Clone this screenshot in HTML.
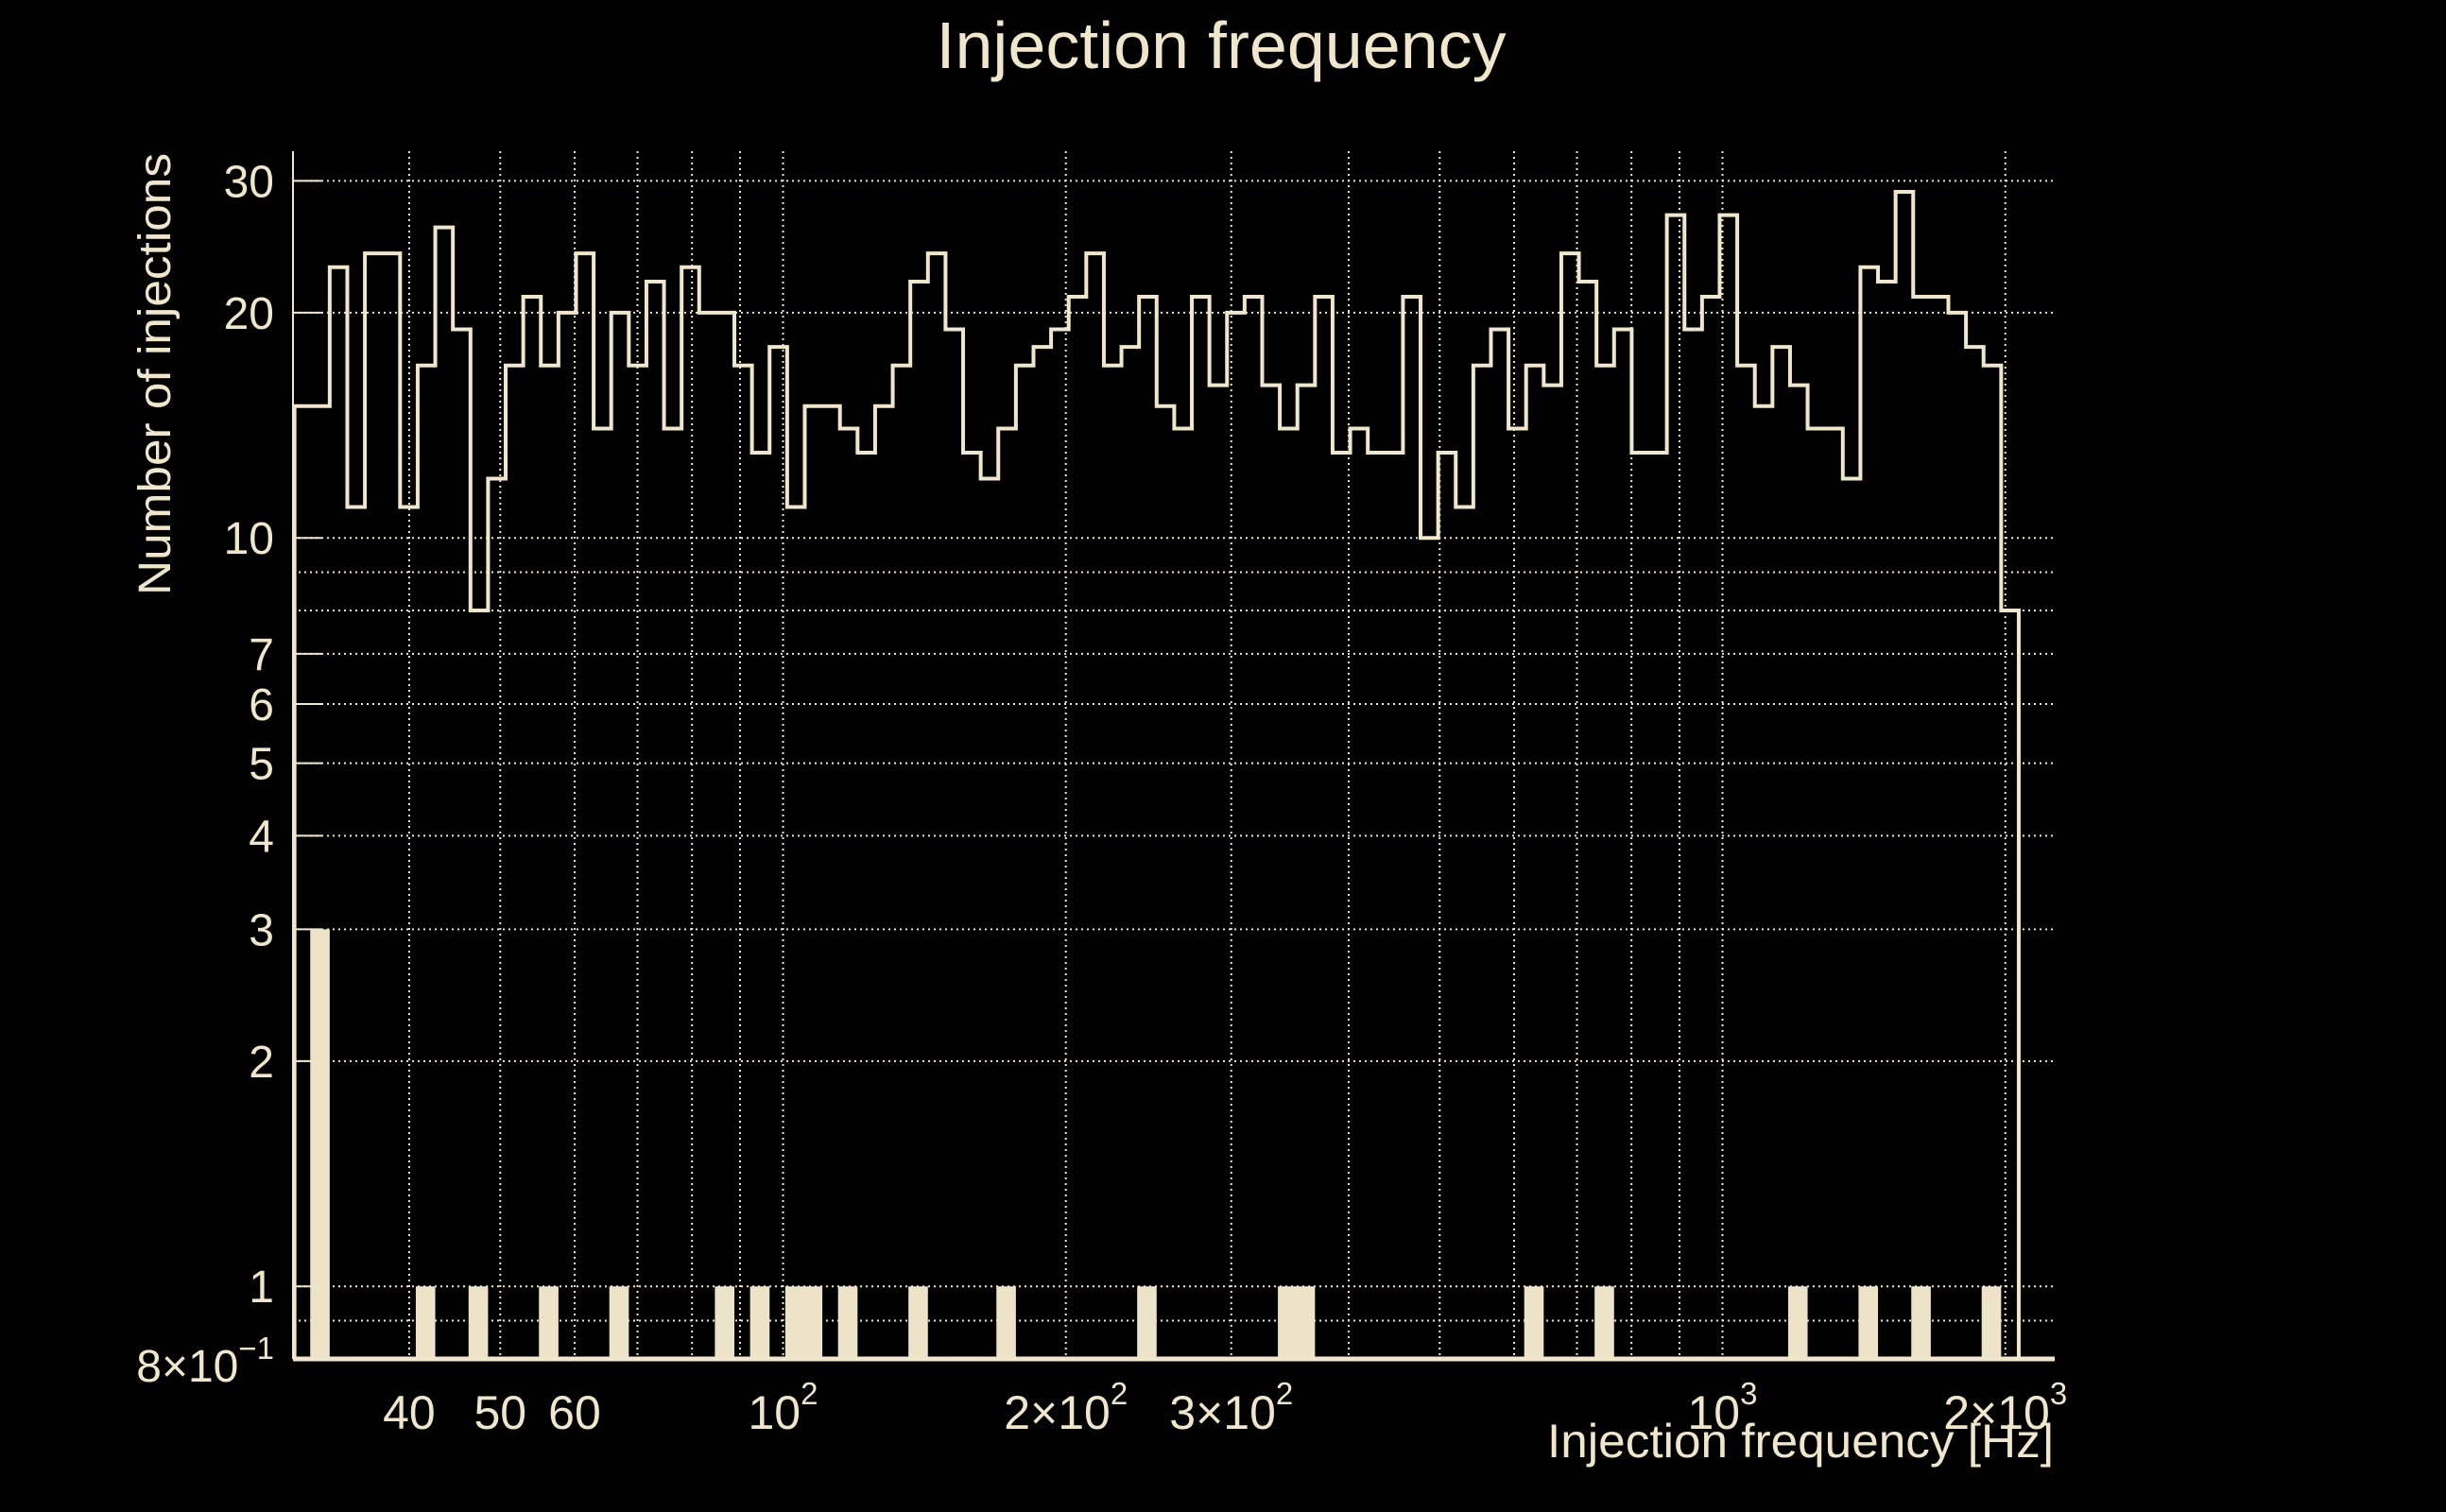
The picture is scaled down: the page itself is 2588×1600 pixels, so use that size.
<!DOCTYPE html>
<html><head><meta charset="utf-8"><title>Injection frequency</title>
<style>
html,body{margin:0;padding:0;background:#000;}
svg{display:block;}
text{font-family:"Liberation Sans",Arial,sans-serif;fill:#f0e6cc;}
</style></head>
<body>
<svg id="chart" width="2588" height="1600" viewBox="0 0 2588 1600" xmlns="http://www.w3.org/2000/svg">
<rect x="0" y="0" width="2588" height="1600" fill="#000"/>
<g id="grid"></g>
<g id="hist"></g>
<g id="bars"></g>
<g id="axes"></g>
<text x="1292" y="72" font-size="70" text-anchor="middle" textLength="603" lengthAdjust="spacingAndGlyphs">Injection frequency</text>
<text x="2173" y="1542" font-size="50" text-anchor="end" textLength="536" lengthAdjust="spacingAndGlyphs">Injection frequency [Hz]</text>
<text transform="translate(180,162) rotate(-90)" font-size="48" text-anchor="end" textLength="468" lengthAdjust="spacingAndGlyphs">Number of injections</text>
</svg>
<script>
// ---- data ----
const histCounts = [15,15,23,11,24,24,11,17,26,19,8,12,17,21,17,20,24,14,20,17,22,14,23,20,20,17,13,18,11,15,15,14,13,15,
17,22,24,19,13,12,14,17,18,19,21,24,17,18,21,15,14,21,16,20,21,16,14,16,21,13,14,13,13,21,10,13,11,17,
19,14,17,16,24,22,17,19,13,13,27,19,21,27,17,15,18,16,14,14,12,23,22,29,21,21,20,18,17,8];
const barBins = [1,7,10,14,18,24,26,28,29,31,35,40,48,56,57,70,74,85,89,92,96];
const barValues = [3,1,1,1,1,1,1,1,1,1,1,1,1,1,1,1,1,1,1,1,1];
const histRange = [30.2, 2067];
const xGridValues = [40,50,60,70,80,90,100,200,300,400,500,600,700,800,900,1000,2000];
const xTickLabels = [["40",""],["50",""],["60",""],["10","2"],["2×10","2"],["3×10","2"],["10","3"],["2×10","3"]];
const xTickValues = [40,50,60,100,200,300,1000,2000];
const yGridValues = [30,20,10,9,8,7,6,5,4,3,2,1,0.9];
const yTickValues = [30,20,10,7,6,5,4,3,2,1];
const yTickLabels = ["30","20","10","7","6","5","4","3","2","1"];

// ---- axis functions ----
const X0 = 310, X1 = 2174, Y0 = 160, Y1 = 1438;
function xs(v){ return 828.5 + 994*Math.log10(v/100); }
function ys(v){ return 1438 - 792*Math.log10(v/0.8); }
const C = '#f0e6cc';
const NS = 'http://www.w3.org/2000/svg';
function mk(tag, attrs, parent){
  const e = document.createElementNS(NS, tag);
  for (const k in attrs) e.setAttribute(k, attrs[k]);
  parent.appendChild(e); return e;
}
const grid = document.getElementById('grid');
const hist = document.getElementById('hist');
const barsG = document.getElementById('bars');
const axes = document.getElementById('axes');

xGridValues.forEach(v => {
  const l = mk('line', {x1:xs(v), x2:xs(v), y1:Y0, y2:Y1, stroke:C, 'stroke-width':2, 'stroke-dasharray':'2 4'}, grid);
  
  
});
yGridValues.forEach(v => {
  const l = mk('line', {x1:X0, x2:X1, y1:ys(v), y2:ys(v), stroke:C, 'stroke-width':2, 'stroke-dasharray':'2 4'}, grid);
  
  
});

const nb = histCounts.length;
const lr = Math.log10(histRange[1]/histRange[0]);
function edge(i){ return histRange[0]*Math.pow(10, lr*i/nb); }

barBins.forEach((b, i) => {
  const xa = xs(edge(b)), xb = xs(edge(b+1));
  const r = mk('rect', {x:xa-2, y:ys(barValues[i]), width:xb-xa+2, height:Y1-ys(barValues[i]), fill:'#ede3c8'}, barsG);
  
  
});

let d = 'M' + xs(edge(0)) + ',' + Y1;
histCounts.forEach((c, i) => {
  d += ' L' + xs(edge(i)) + ',' + ys(c) + ' L' + xs(edge(i+1)) + ',' + ys(c);
});
d += ' L' + xs(edge(nb)) + ',' + Y1;
const p = mk('path', {d:d, fill:'none', stroke:C, 'stroke-width':4, 'stroke-linejoin':'miter'}, hist);



const ya = mk('line', {x1:X0, x2:X0, y1:Y0, y2:Y1, stroke:C, 'stroke-width':2}, axes);


const xa = mk('line', {x1:X0, x2:X1, y1:Y1, y2:Y1, stroke:C, 'stroke-width':5}, axes);



yTickValues.forEach((v, i) => {
  const t = mk('line', {x1:X0, x2:X0+30, y1:ys(v), y2:ys(v), stroke:C, 'stroke-width':2}, axes);
  
  
  const tx = mk('text', {x:290, y:ys(v)+17, 'font-size':48, 'text-anchor':'end'}, axes);
  tx.textContent = yTickLabels[i];
  
  
});
const bl = mk('text', {x:290, y:1462, 'font-size':48, 'text-anchor':'end'}, axes);


bl.appendChild(document.createTextNode('8×10'));
const bs = mk('tspan', {'font-size':33, dy:-24}, bl);
bs.textContent = '−1';

xTickValues.forEach((v, i) => {
  const tx = mk('text', {x:xs(v), y:1512, 'font-size':50, 'text-anchor':'middle'}, axes);
  
  
  tx.appendChild(document.createTextNode(xTickLabels[i][0]));
  if (xTickLabels[i][1]) {
    const s = mk('tspan', {'font-size':33, dy:-26}, tx);
    s.textContent = xTickLabels[i][1];
  }
});
</script>
</body></html>
